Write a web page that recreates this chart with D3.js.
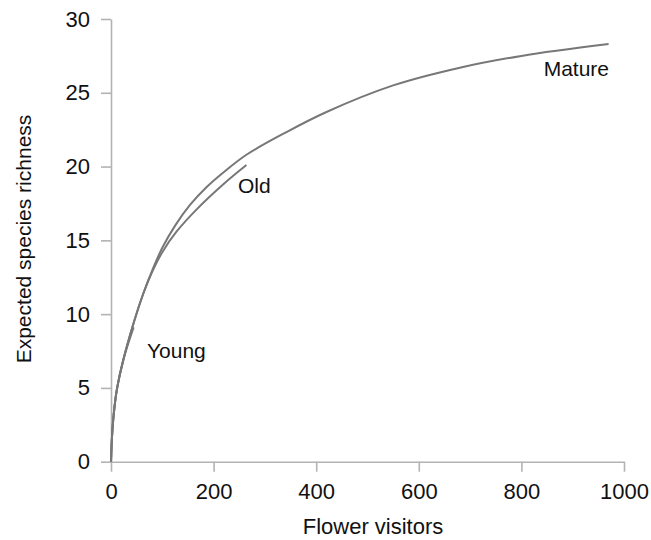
<!DOCTYPE html>
<head lang="en">
<meta charset="utf-8">
<title>Expected species richness vs flower visitors</title>
<style>
body { margin:0; background:#fff; }
* { font-family:"Liberation Sans","Arial",sans-serif; }
</style>
<script src="https://cdn.jsdelivr.net/npm/d3@7"></script>
</head>
<body>
<div id="chart"></div>
<script>
// rarefaction curves: [flower visitors, expected richness]
var mature = [[0,0],[1,1.0],[2,1.7],[5,3.1],[11,4.8],[24,6.9],[45,9.5],[63,11.4],[82,13.1],
              [100,14.5],[125,16.0],[154,17.4],[186,18.6],[219,19.6],[264,20.8],
              [340,22.3],[420,23.7],[550,25.5],[680,26.7],[800,27.5],[970,28.3]];
var old = [[0,0],[1,1.0],[2,1.7],[5,3.1],[11,4.8],[24,6.9],[45,9.5],[63,11.4],[82,13.0],
           [100,14.2],[128,15.6],[167,17.1],[219,18.8],[264,20.1]];
var young = [[0,0],[1,1.0],[2,1.7],[5,3.1],[11,4.8],[24,6.9],[44,9.1]];

var xTicks = [0, 200, 400, 600, 800, 1000];
var yTicks = [0, 5, 10, 15, 20, 25, 30];

var curves = [
    { name: "Mature", values: mature, lx: 609, ly: 76, anchor: "end" },
    { name: "Old", values: old, lx: 238, ly: 193, anchor: "start" },
    { name: "Young", values: young, lx: 147, ly: 358, anchor: "start" }
];

var width = 651, height = 540;
var svg = d3.select("#chart").append("svg")
    .attr("width", width)
    .attr("height", height);

var x = d3.scaleLinear().domain([0, 1000]).range([111, 624]);
var y = d3.scaleLinear().domain([0, 30]).range([461.7, 19]);

var xAxis = svg.append("g")
    .attr("transform", "translate(0," + y(0) + ")")
    .call(d3.axisBottom(x).tickValues(xTicks).tickFormat(d3.format("d"))
        .tickSize(10).tickSizeOuter(0).tickPadding(11.5));
var yAxis = svg.append("g")
    .attr("transform", "translate(" + x(0) + ",0)")
    .call(d3.axisLeft(y).tickValues(yTicks).tickSize(10).tickSizeOuter(0).tickPadding(11));

[xAxis, yAxis].forEach(function(g) {
    g.select(".domain").attr("stroke", "#b3b3b3").attr("stroke-width", 1.6);
    g.selectAll(".tick line").attr("stroke", "#b3b3b3").attr("stroke-width", 1.6);
    g.selectAll(".tick text").attr("fill", "#111").style("font-size", "22px");
});

var line = d3.line()
    .x(function(d) { return x(d[0]); })
    .y(function(d) { return y(d[1]); })
    .curve(d3.curveCatmullRom.alpha(0.5));

svg.selectAll("path.curve")
    .data(curves)
    .enter()
    .append("path")
        .attr("class", "curve")
        .attr("d", function(d) { return line(d.values); })
        .attr("fill", "none")
        .attr("stroke", "#777")
        .attr("stroke-width", 2);

svg.selectAll("text.lbl")
    .data(curves)
    .enter()
    .append("text")
        .attr("class", "lbl")
        .attr("x", function(d) { return d.lx; })
        .attr("y", function(d) { return d.ly; })
        .attr("text-anchor", function(d) { return d.anchor; })
        .style("font-size", "21px")
        .attr("fill", "#111")
        .text(function(d) { return d.name; });

svg.append("text")
    .attr("x", 373)
    .attr("y", 534)
    .attr("text-anchor", "middle")
    .style("font-size", "22px")
    .attr("fill", "#111")
    .text("Flower visitors");

svg.append("text")
    .attr("transform", "translate(31,239) rotate(-90)")
    .attr("text-anchor", "middle")
    .style("font-size", "21px")
    .attr("fill", "#111")
    .text("Expected species richness");
</script>
</body>
</html>
